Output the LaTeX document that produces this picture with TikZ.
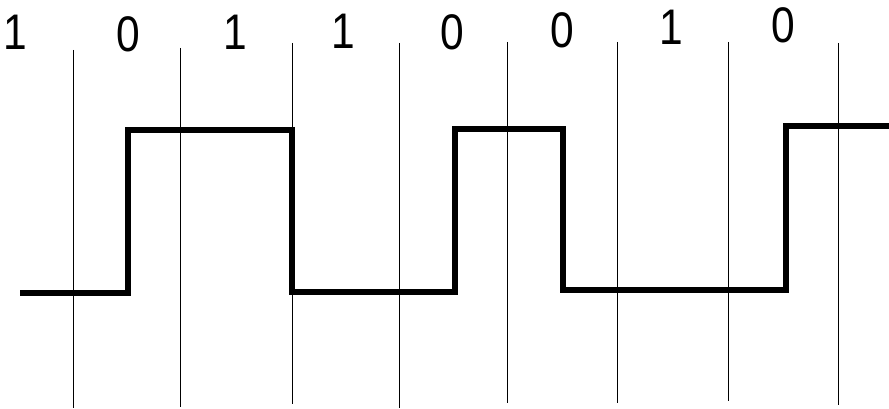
\documentclass[tikz,border=0pt]{standalone}
\usepackage{fontspec}
\setmainfont{Liberation Sans}
\newfontfamily\bitfont[FakeStretch=0.85]{Liberation Sans}
\definecolor{inkblack}{HTML}{000000}
\tikzset{
  bitlabel/.style={
    font=\bitfont\fontsize{50}{50}\selectfont,
    text=inkblack,
    anchor=base,
    inner sep=0pt
  },
  gridline/.style={
    draw=inkblack,
    line width=1pt
  },
  signal/.style={
    draw=inkblack,
    line width=6.5pt,
    line join=miter,
    line cap=butt
  }
}

\begin{document}
\begin{tikzpicture}[x=1pt, y=-1pt]
\useasboundingbox (0,0) rectangle (889,409);
% bit cell borders
\foreach \gx/\gtop/\gbot in {73/50/408, 180/48/407, 292/43/404, 399/43/408,
                             507/42/403, 617/42/403, 728/42/401, 838/43/405}
  \draw[gridline] (\gx,\gtop) -- (\gx,\gbot);
% bit values
\node[bitlabel] (bitA) at (15,50) {1};
\node[bitlabel] (bitB) at (128,52) {0};
\node[bitlabel] (bitC) at (235,50) {1};
\node[bitlabel] (bitD) at (343,49) {1};
\node[bitlabel] (bitE) at (452,50) {0};
\node[bitlabel] (bitF) at (562,48) {0};
\node[bitlabel] (bitG) at (671,45) {1};
\node[bitlabel] (bitH) at (783,43) {0};
% line signal
\draw[signal] (20,293) -- (128,293) -- (128,130) -- (292,130) -- (292,292)
  -- (455,292) -- (455,129) -- (563,129) -- (563,290) -- (786,290)
  -- (786,126) -- (889,126);
\end{tikzpicture}
\end{document}
